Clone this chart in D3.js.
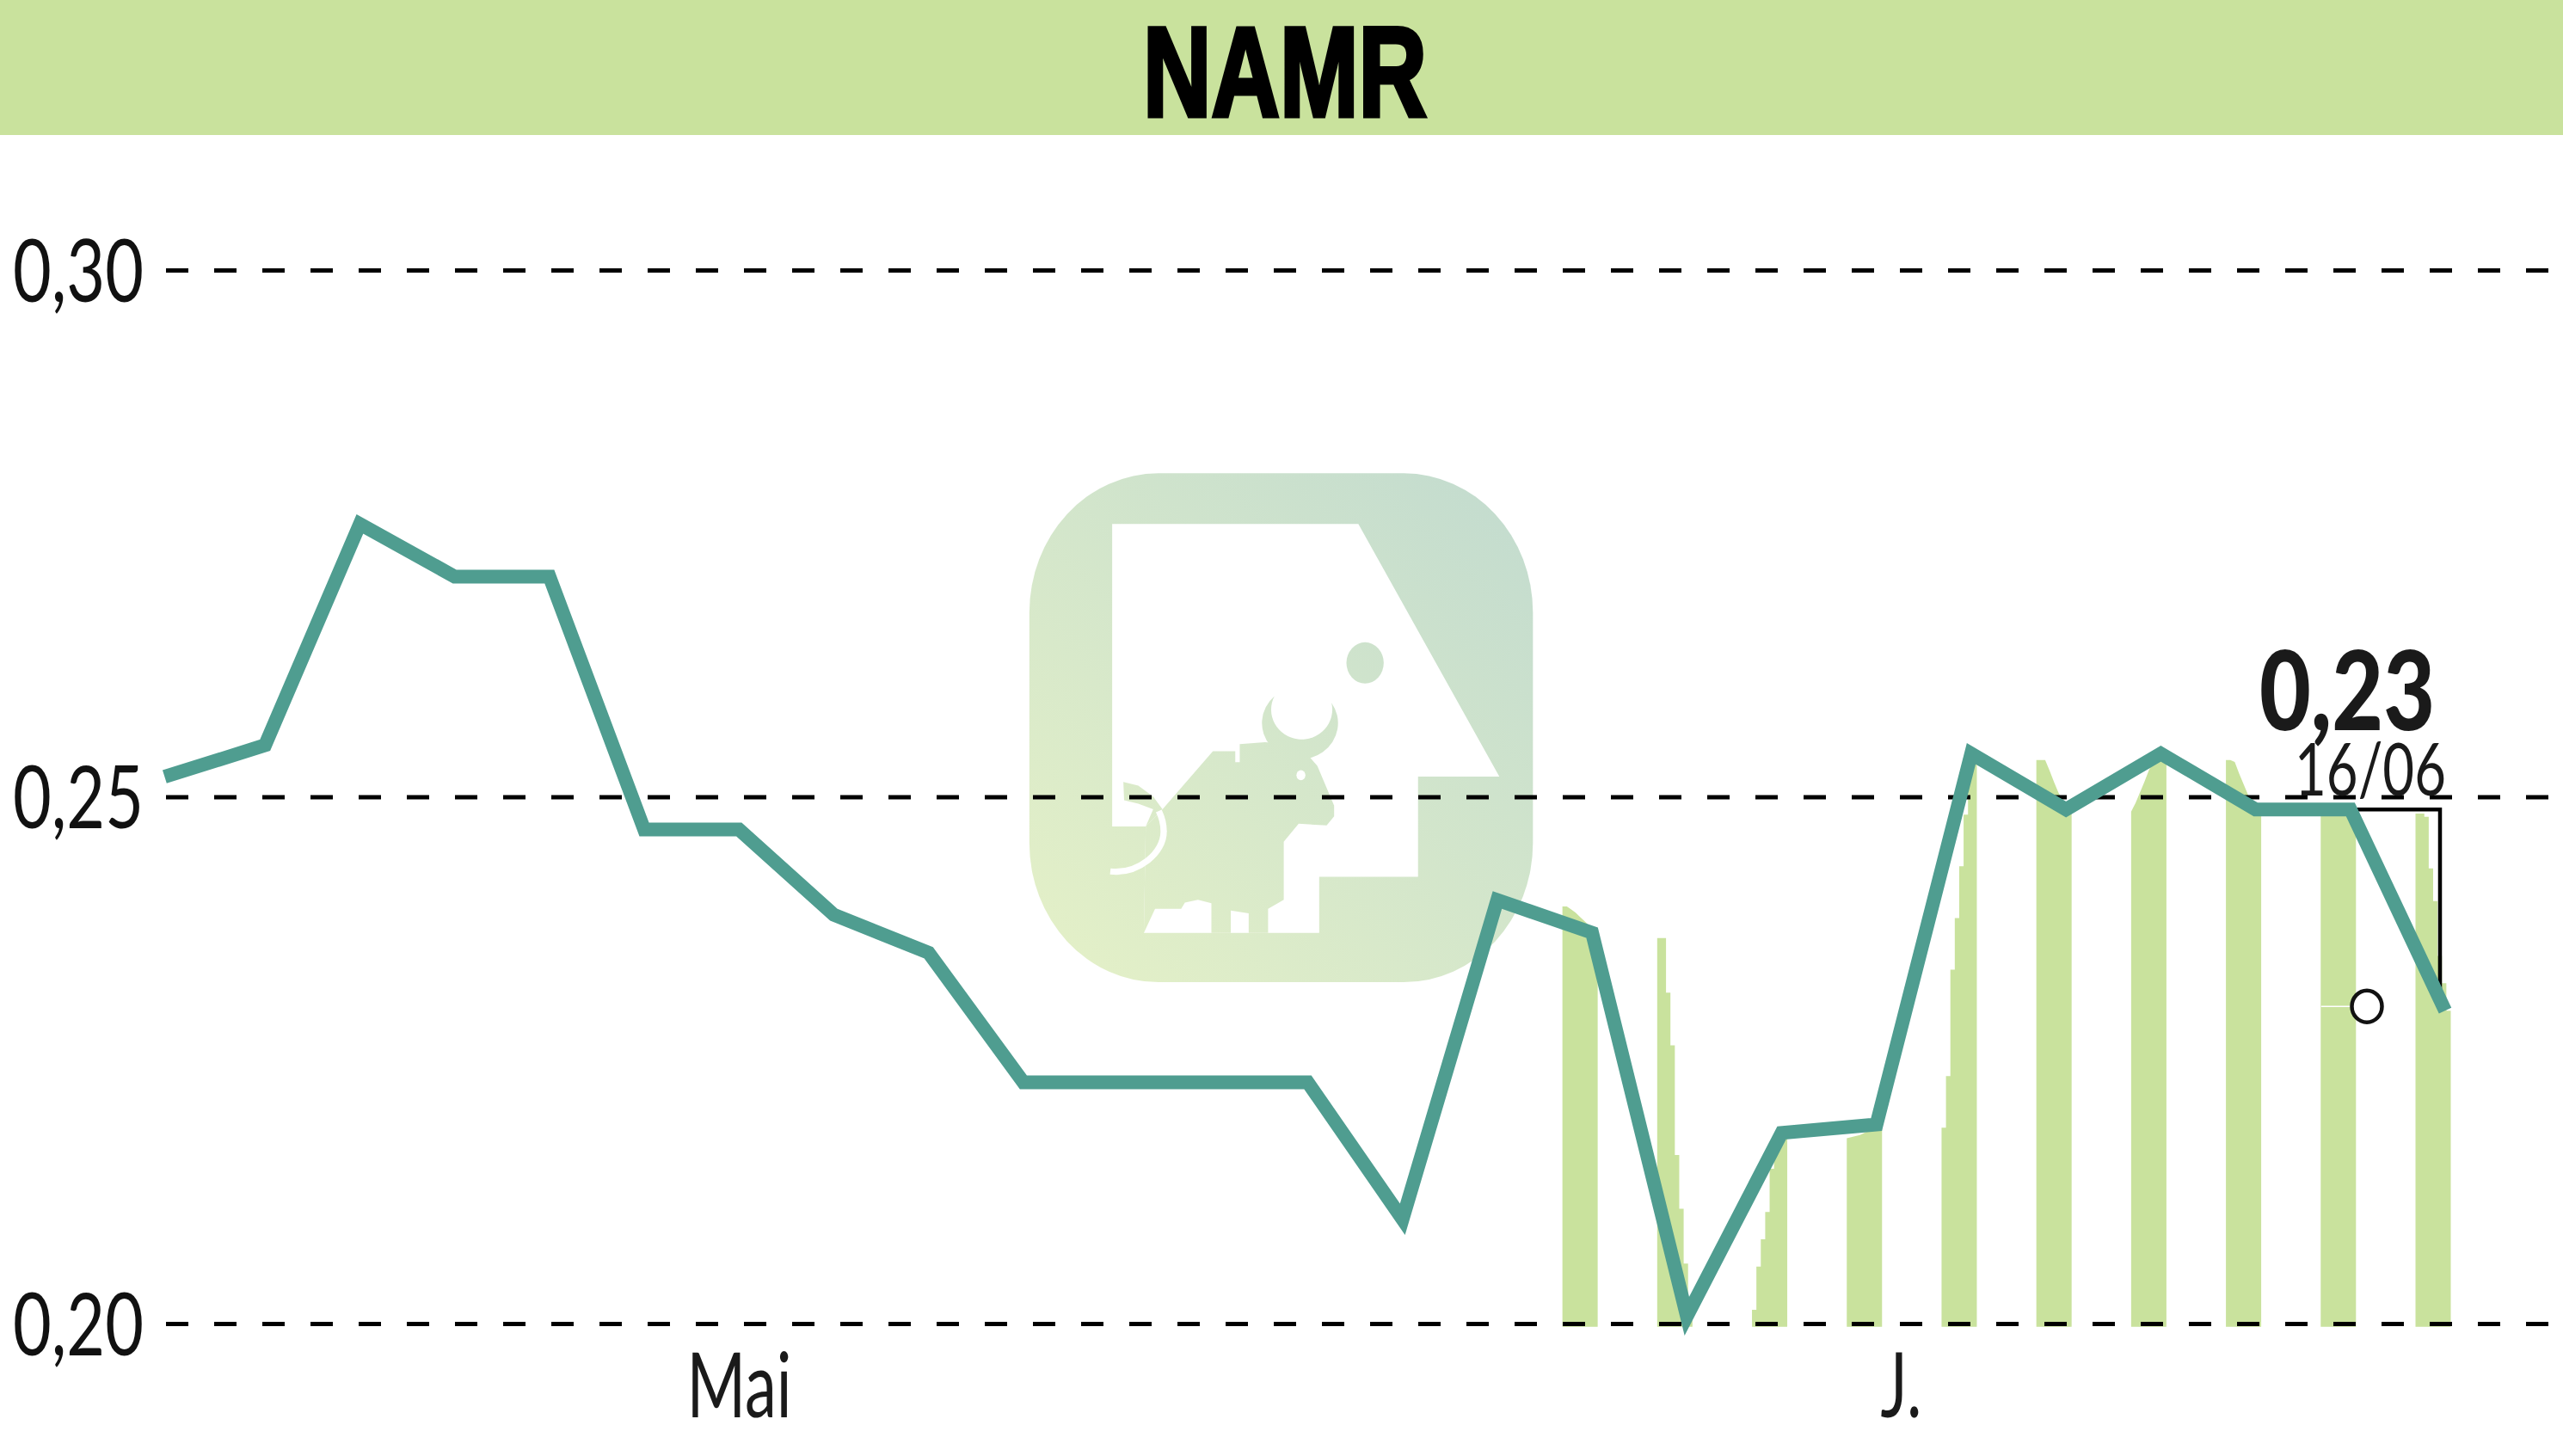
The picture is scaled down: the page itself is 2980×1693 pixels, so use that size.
<!DOCTYPE html>
<html>
<head>
<meta charset="utf-8">
<script src="https://cdn.jsdelivr.net/npm/d3@7/dist/d3.min.js"></script>
<style>
html,body{margin:0;padding:0;background:#fff;}
svg{display:block;}
text{font-family:"Lato","Open Sans",sans-serif;fill:#1a1a1a;}
</style>
</head>
<body>
<svg id="chart" width="2980" height="1693"></svg>
<script>
const title = "NAMR";
const lastValueLabel = "0,23";
const lastDateLabel = "16/06";
const priceDays = [-0.06,1,2,3,4,5,6,7,8,9,10,11,12,13,14,15,16,17,18,19,20,21,22,23,24];
const priceValues = [0.2519,0.2549,0.2759,0.2709,0.2709,0.2469,0.2469,0.2388,0.2352,0.2229,0.2229,0.2229,0.2229,0.2099,0.2402,0.2371,0.2007,0.2181,0.2189,0.2541,0.2488,0.2541,0.2488,0.2488,0.2297];
const yTicks = [0.20,0.25,0.30];
const monthTicks = [6,18];
const monthLabels = ["Mai","J."];
const barDays = [15,16,17,18,19,20,21,22,23,24];
const barStepped = [false,true,true,false,true,false,false,false,false,true];
const barProfiles = [
  [0.2396,0.2396,0.2393,0.2390,0.2386,0.2382,0.2378,0.2374],
  [0.2366,0.2366,0.2314,0.2264,0.2160,0.2109,0.2057,0.2005],
  [0.2013,0.2054,0.2080,0.2106,0.2147,0.2176,0.2176,0.2181],
  [0.2176,0.2177,0.2178,0.2179,0.2181,0.2183,0.2184,0.2185],
  [0.2186,0.2235,0.2336,0.2385,0.2434,0.2483,0.2535,0.2535],
  [0.2535,0.2535,0.2535,0.2525,0.2514,0.2504,0.2496,0.2489],
  [0.2486,0.2494,0.2504,0.2514,0.2525,0.2533,0.2535,0.2535],
  [0.2535,0.2535,0.2533,0.2522,0.2512,0.2502,0.2494,0.2486],
  [0.2489,0.2489,0.2489,0.2489,0.2489,0.2489,0.2489,0.2489],
  [0.2484,0.2484,0.2481,0.2432,0.2401,0.2349,0.2323,0.2297]
];
const barFloor = 0.1997;

const W = 2980, H = 1693;
const svg = d3.select("#chart");
const x = d3.scaleLinear().domain([0,24]).range([198,2843]);
const y = d3.scaleLinear().domain([0.20,0.30]).range([1539,314]);
const green = "#c9e29d", teal = "#4f9d90";

// header
svg.append("rect").attr("width",W).attr("height",157).attr("fill",green);
svg.append("text").text(title).attr("x",1329).attr("y",135)
  .attr("font-size",148).attr("font-weight",700).style("font-family","'Liberation Sans',sans-serif").style("fill","#000")
  .attr("stroke","#000").attr("stroke-width",5).attr("stroke-linejoin","miter")
  .attr("textLength",330).attr("lengthAdjust","spacingAndGlyphs");

// logo
const defs = svg.append("defs");
const grad = defs.append("linearGradient").attr("id","logoGrad")
  .attr("gradientUnits","userSpaceOnUse")
  .attr("x1",108).attr("y1",1478).attr("x2",1458).attr("y2",72);
grad.append("stop").attr("offset",0).attr("stop-color","#e5f1c7");
grad.append("stop").attr("offset",1).attr("stop-color","#c2dbcf");
const logo = svg.append("g").attr("transform","translate(1150,520) scale(0.4337,0.4209)");
logo.append("rect").attr("x",108).attr("y",72).attr("width",1350).attr("height",1406)
  .attr("rx",346).attr("ry",385).attr("fill","url(#logoGrad)");
logo.append("path").attr("fill","#fff")
  .attr("d","M330,212 L990,212 L1368,910 L1150,910 L1150,1187 L885,1187 L885,1342 L415,1342 L420,1048 L330,1048 Z");
// bull body and left ground
logo.append("path").attr("fill","url(#logoGrad)")
  .attr("d","M415,1342 L445,1275 L515,1275 L525,1258 L560,1250 L596,1260 L596,1342 L648,1342 L648,1280 L696,1288 L696,1342 L748,1342 L748,1275 L790,1250 L790,1090 L830,1040 L905,1045 L925,1020 L925,990 L880,880 L850,845 L800,820 L740,815 L672,820 L672,870 L660,870 L660,840 L600,840 L465,1000 L420,1048 Z");
// tail tuft
logo.append("path").attr("fill","url(#logoGrad)")
  .attr("d","M360,925 L400,935 L440,965 L465,1000 L420,1048 L440,1000 L400,985 L362,975 Z");
// tail line
logo.append("path").attr("fill","none").attr("stroke","#fff").attr("stroke-width",17)
  .attr("d","M325,1172 C400,1180 470,1120 468,1060 C468,1040 462,1020 455,1005");
// horns
logo.append("path").attr("fill","url(#logoGrad)")
  .attr("d","M765,688 A102,100 0 1 0 918,706 A82,82 0 1 1 765,688 Z");
// ball and eye
logo.append("ellipse").attr("cx",1008).attr("cy",596).attr("rx",50).attr("ry",57).attr("fill","url(#logoGrad)");
logo.append("ellipse").attr("cx",836).attr("cy",906).attr("rx",12).attr("ry",14).attr("fill","#fff");

// volume-like bars
const barWidth = 41, barOffset = -34.5;
barProfiles.forEach((profile,k)=>{
  const cx = x(barDays[k]) + barOffset;
  const sub = d3.scaleLinear().domain([0,profile.length]).range([cx,cx+barWidth]);
  const pts = profile.concat([profile[profile.length-1]]);
  const area = d3.area().curve(barStepped[k] ? d3.curveStepAfter : d3.curveLinear)
    .x((d,i)=>sub(i)).y0(y(barFloor)).y1(d=>y(d));
  svg.append("path").attr("d",area(pts)).attr("fill",green);
});

// white tick across last-but-one bar
const last = priceValues.length-1;
svg.append("line").attr("x1",x(23)-34).attr("x2",x(23)+14)
  .attr("y1",y(priceValues[last])-5).attr("y2",y(priceValues[last])-5)
  .attr("stroke","#fff").attr("stroke-width",1.5);

// y axis with grid
const fmt = d => d.toFixed(2).replace(".",",");
const yAxis = d3.axisRight(y).tickValues(yTicks).tickFormat(fmt).tickSize(W-193);
const yG = svg.append("g").attr("transform","translate(193,0)").call(yAxis);
yG.select(".domain").remove();
yG.selectAll(".tick line").attr("stroke","#000").attr("stroke-width",5).attr("stroke-dasharray","26,30");
yG.selectAll(".tick text").attr("x",15-193).attr("dy",36).attr("text-anchor","start")
  .attr("font-size",100).attr("textLength",152).attr("lengthAdjust","spacingAndGlyphs")
  .style("fill","#111");

// x axis labels
const xAxis = d3.axisBottom(x).tickValues(monthTicks).tickFormat((d,i)=>monthLabels[i]).tickSize(0);
const xG = svg.append("g").attr("transform","translate(0,1648)").call(xAxis);
xG.select(".domain").remove();
const xLens = [122,48], xStart = [798,2186];
xG.selectAll(".tick text").each(function(d,i){
  d3.select(this).attr("y",0).attr("dy",0).attr("x",xStart[i]-x(d)).attr("text-anchor","start")
    .attr("font-size",104).attr("textLength",xLens[i]).attr("lengthAdjust","spacingAndGlyphs")
    .style("fill","#1a1a1a");
});

// bracket behind line end
svg.append("path").attr("fill","none").attr("stroke","#000").attr("stroke-width",4.5)
  .attr("d",`M${x(22)+5},${y(priceValues[22])} H${x(last)-6} V${y(priceValues[last])-3}`);

// price line
const line = d3.line().x((d,i)=>x(priceDays[i])).y(d=>y(d));
svg.append("path").attr("d",line(priceValues)).attr("fill","none")
  .attr("stroke",teal).attr("stroke-width",16).attr("stroke-linejoin","miter").attr("stroke-miterlimit",4);

// last value marker
svg.append("ellipse").attr("cx",x(last)-91).attr("cy",y(priceValues[last])-5)
  .attr("rx",17.5).attr("ry",18.5).attr("fill","#fff").attr("stroke","#111").attr("stroke-width",4.5);

// last value labels
svg.append("text").text(lastValueLabel).attr("x",2627).attr("y",849)
  .attr("font-size",128).attr("font-weight",900).style("fill","#1a1a1a")
  .attr("textLength",204).attr("lengthAdjust","spacingAndGlyphs");
svg.append("text").text(lastDateLabel).attr("x",2668).attr("y",925)
  .attr("font-size",86).attr("textLength",176).attr("lengthAdjust","spacingAndGlyphs");
</script>
</body>
</html>
